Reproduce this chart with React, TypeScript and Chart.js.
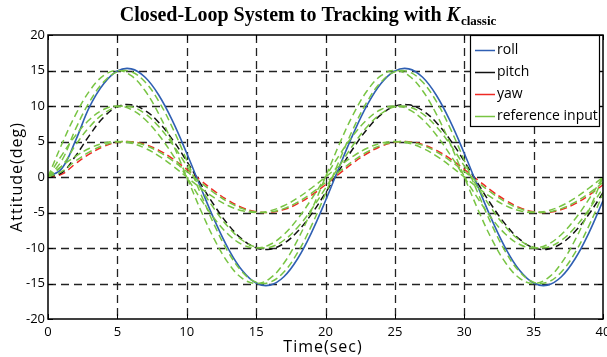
import React, { useEffect, useRef } from "react";
import { Chart, registerables } from "chart.js";

Chart.register(...registerables);

// ---- data ----
const time = [0, 1, 2, 3, 4, 5, 6, 7, 8, 9, 10, 11, 12, 13, 14, 15, 16, 17, 18, 19, 20, 21, 22, 23, 24, 25, 26, 27, 28, 29, 30, 31, 32, 33, 34, 35, 36, 37, 38, 39, 40];

const roll = [0, 1.2, 5.2, 9.9, 13.1, 14.93, 15.23, 14.05, 11.48, 7.79, 3.34, -1.44, -6.07, -10.11, -13.17, -14.93, -15.23, -14.05, -11.48, -7.79, -3.34, 1.44, 6.07, 10.11, 13.17, 14.93, 15.23, 14.05, 11.48, 7.79, 3.34, -1.44, -6.07, -10.11, -13.17, -14.93, -15.23, -14.05, -11.48, -7.79, -3.34];

const pitch = [0, 0.6, 3.0, 5.9, 8.4, 9.9, 10.16, 9.36, 7.65, 5.19, 2.22, -0.96, -4.05, -6.74, -8.78, -9.96, -10.16, -9.36, -7.65, -5.19, -2.22, 0.96, 4.05, 6.74, 8.78, 9.96, 10.16, 9.36, 7.65, 5.19, 2.22, -0.96, -4.05, -6.74, -8.78, -9.96, -10.16, -9.36, -7.65, -5.19, -2.22];

const yaw = [0, 0.4, 1.9, 3.25, 4.3, 4.88, 4.98, 4.59, 3.75, 2.55, 1.09, -0.47, -1.99, -3.31, -4.31, -4.88, -4.98, -4.59, -3.75, -2.55, -1.09, 0.47, 1.99, 3.31, 4.31, 4.88, 4.98, 4.59, 3.75, 2.55, 1.09, -0.47, -1.99, -3.31, -4.31, -4.88, -4.98, -4.59, -3.75, -2.55, -1.09];

const refRoll = [0, 4.64, 8.82, 12.14, 14.27, 15, 14.27, 12.14, 8.82, 4.64, 0, -4.64, -8.82, -12.14, -14.27, -15, -14.27, -12.14, -8.82, -4.64, 0, 4.64, 8.82, 12.14, 14.27, 15, 14.27, 12.14, 8.82, 4.64, 0, -4.64, -8.82, -12.14, -14.27, -15, -14.27, -12.14, -8.82, -4.64, 0];
const refRollLag = [0, 2.34, 6.81, 10.61, 13.37, 14.82, 14.82, 13.37, 10.61, 6.81, 2.34, -2.34, -6.81, -10.61, -13.37, -14.82, -14.82, -13.37, -10.61, -6.81, -2.34, 2.34, 6.81, 10.61, 13.37, 14.82, 14.82, 13.37, 10.61, 6.81, 2.34, -2.34, -6.81, -10.61, -13.37, -14.82, -14.82, -13.37, -10.61, -6.81, -2.34];

const refPitch = [0, 3.09, 5.88, 8.09, 9.51, 10, 9.51, 8.09, 5.88, 3.09, 0, -3.09, -5.88, -8.09, -9.51, -10, -9.51, -8.09, -5.88, -3.09, 0, 3.09, 5.88, 8.09, 9.51, 10, 9.51, 8.09, 5.88, 3.09, 0, -3.09, -5.88, -8.09, -9.51, -10, -9.51, -8.09, -5.88, -3.09, 0];
const refPitchLag = [0, 1.56, 4.54, 7.07, 8.91, 9.88, 9.88, 8.91, 7.07, 4.54, 1.56, -1.56, -4.54, -7.07, -8.91, -9.88, -9.88, -8.91, -7.07, -4.54, -1.56, 1.56, 4.54, 7.07, 8.91, 9.88, 9.88, 8.91, 7.07, 4.54, 1.56, -1.56, -4.54, -7.07, -8.91, -9.88, -9.88, -8.91, -7.07, -4.54, -1.56];

const refYaw = [0, 1.55, 2.94, 4.05, 4.76, 5, 4.76, 4.05, 2.94, 1.55, 0, -1.55, -2.94, -4.05, -4.76, -5, -4.76, -4.05, -2.94, -1.55, 0, 1.55, 2.94, 4.05, 4.76, 5, 4.76, 4.05, 2.94, 1.55, 0, -1.55, -2.94, -4.05, -4.76, -5, -4.76, -4.05, -2.94, -1.55, 0];
const refYawLag = [0, 0.78, 2.27, 3.54, 4.46, 4.94, 4.94, 4.46, 3.54, 2.27, 0.78, -0.78, -2.27, -3.54, -4.46, -4.94, -4.94, -4.46, -3.54, -2.27, -0.78, 0.78, 2.27, 3.54, 4.46, 4.94, 4.94, 4.46, 3.54, 2.27, 0.78, -0.78, -2.27, -3.54, -4.46, -4.94, -4.94, -4.46, -3.54, -2.27, -0.78];

const xTickValues = [0, 5, 10, 15, 20, 25, 30, 35, 40];
const yTickValues = [-20, -15, -10, -5, 0, 5, 10, 15, 20];

const legendLabels = ["roll", "pitch", "yaw", "reference input"];

const titleMain = "Closed-Loop System to Tracking with ";
const titleK = "K";
const titleSub = "classic";
const xTitle = "Time(sec)";
const yTitle = "Attitude(deg)";

// ---- styles ----
const W = 607;
const H = 357;
const BLUE = "#2f5fb3";
const BLACK = "#111111";
const RED = "#ee2a24";
const GREEN = "#78c443";
const legendColors = [BLUE, BLACK, RED, GREEN];
const SANS = '"Open Sans", "DejaVu Sans", sans-serif';

export default function App() {
  const ref = useRef<HTMLCanvasElement>(null);

  useEffect(() => {
    const canvas = ref.current;
    if (!canvas) return;
    const pts = (arr: number[]) => arr.map((y, i) => ({ x: time[i], y }));
    const dashed = (label: string, data: number[], color: string) => ({
      label,
      data: pts(data),
      borderColor: color,
      backgroundColor: color,
      borderWidth: 1.5,
      borderDash: [7, 4],
      pointRadius: 0,
      tension: 0.4,
      fill: false,
    });

    const deco = {
      id: "deco",
      beforeDatasetsDraw(chart: any) {
        const { ctx, chartArea: a, scales } = chart;
        const x = scales.x;
        const y = scales.y;
        ctx.save();
        ctx.strokeStyle = "#222";
        ctx.lineWidth = 1.3;
        ctx.setLineDash([8, 5]);
        for (const v of xTickValues) {
          if (v <= 0 || v >= 40) continue;
          const px = Math.round(x.getPixelForValue(v)) + 0.5;
          ctx.beginPath();
          ctx.moveTo(px, a.top);
          ctx.lineTo(px, a.bottom);
          ctx.stroke();
        }
        for (const v of yTickValues) {
          if (v <= -20 || v >= 20) continue;
          const py = Math.round(y.getPixelForValue(v)) + 0.5;
          ctx.beginPath();
          ctx.moveTo(a.left, py);
          ctx.lineTo(a.right, py);
          ctx.stroke();
        }
        ctx.restore();
      },
      afterDatasetsDraw(chart: any) {
        const { ctx, chartArea: a, scales } = chart;
        const x = scales.x;
        const y = scales.y;
        ctx.save();
        // frame
        ctx.setLineDash([]);
        ctx.strokeStyle = "#000";
        ctx.lineWidth = 1.5;
        ctx.strokeRect(a.left, a.top, a.right - a.left, a.bottom - a.top);
        ctx.lineWidth = 1;
        for (const v of xTickValues) {
          const px = Math.round(x.getPixelForValue(v)) + 0.5;
          ctx.beginPath();
          ctx.moveTo(px, a.bottom);
          ctx.lineTo(px, a.bottom - 5);
          ctx.moveTo(px, a.top);
          ctx.lineTo(px, a.top + 5);
          ctx.stroke();
        }
        for (const v of yTickValues) {
          const py = Math.round(y.getPixelForValue(v)) + 0.5;
          ctx.beginPath();
          ctx.moveTo(a.left, py);
          ctx.lineTo(a.left + 5, py);
          ctx.moveTo(a.right, py);
          ctx.lineTo(a.right - 5, py);
          ctx.stroke();
        }
        // legend
        const bx = 470.5;
        const by = 35.5;
        const bw = 129;
        const bh = 91;
        ctx.fillStyle = "#fff";
        ctx.fillRect(bx, by, bw, bh);
        ctx.strokeStyle = "#000";
        ctx.lineWidth = 1.2;
        ctx.strokeRect(bx, by, bw, bh);
        ctx.font = `14px ${SANS}`;
        ctx.textBaseline = "middle";
        ctx.textAlign = "left";
        legendLabels.forEach((lab, i) => {
          const ry = 50 + i * 22;
          ctx.strokeStyle = legendColors[i];
          ctx.lineWidth = 1.5;
          ctx.beginPath();
          ctx.moveTo(475, ry + 0.5);
          ctx.lineTo(495, ry + 0.5);
          ctx.stroke();
          ctx.fillStyle = "#000";
          ctx.fillText(lab, 497, ry);
        });
        ctx.restore();
      },
      afterDraw(chart: any) {
        const { ctx } = chart;
        ctx.save();
        // title
        const fMain = 'bold 20px "Liberation Serif", "Times New Roman", serif';
        const fK = 'italic bold 20px "Liberation Serif", "Times New Roman", serif';
        const fSub = 'bold 13px "Liberation Serif", "Times New Roman", serif';
        ctx.fillStyle = "#000";
        ctx.textBaseline = "alphabetic";
        ctx.textAlign = "left";
        ctx.font = fMain;
        const w1 = ctx.measureText(titleMain).width;
        ctx.font = fK;
        const w2 = ctx.measureText(titleK).width;
        ctx.font = fSub;
        const w3 = ctx.measureText(titleSub).width;
        let tx = 307.5 - (w1 + w2 + w3) / 2;
        const ty = 21;
        ctx.font = fMain;
        ctx.fillText(titleMain, tx, ty);
        tx += w1;
        ctx.font = fK;
        ctx.fillText(titleK, tx, ty);
        tx += w2 + 1;
        ctx.font = fSub;
        ctx.fillText(titleSub, tx, ty + 4);
        // axis titles
        ctx.font = `16px ${SANS}`;
        (ctx as any).letterSpacing = "1px";
        ctx.textAlign = "center";
        ctx.textBaseline = "middle";
        ctx.fillText(xTitle, 323, 347);
        ctx.translate(17, 177);
        ctx.rotate(-Math.PI / 2);
        ctx.fillText(yTitle, 0, 0);
        ctx.restore();
      },
    };

    const chart = new Chart(canvas, {
      type: "line",
      data: {
        datasets: [
          dashed("reference input", refRoll, GREEN),
          dashed("reference input", refRollLag, GREEN),
          dashed("reference input", refPitch, GREEN),
          dashed("reference input", refPitchLag, GREEN),
          dashed("reference input", refYaw, GREEN),
          dashed("reference input", refYawLag, GREEN),
          {
            label: "roll",
            data: pts(roll),
            borderColor: BLUE,
            backgroundColor: BLUE,
            borderWidth: 1.6,
            pointRadius: 0,
            tension: 0.4,
            fill: false,
          },
          dashed("pitch", pitch, BLACK),
          dashed("yaw", yaw, RED),
        ],
      },
      options: {
        responsive: false,
        animation: false,
        devicePixelRatio: 1,
        layout: { padding: { top: 35, right: 4, left: 0, bottom: 0 } },
        plugins: {
          legend: { display: false },
          title: { display: false },
          tooltip: { enabled: false },
        },
        scales: {
          x: {
            type: "linear",
            min: 0,
            max: 40,
            afterBuildTicks: (s: any) => {
              s.ticks = xTickValues.map((v) => ({ value: v }));
            },
            afterFit: (s: any) => {
              s.height = 38;
              s.paddingLeft = 0;
              s.paddingRight = 0;
            },
            ticks: {
              color: "#000",
              font: { family: SANS, size: 13 },
              padding: 5,
              maxRotation: 0,
              autoSkip: false,
            },
            grid: { display: false, drawTicks: false },
            border: { display: false },
          },
          y: {
            type: "linear",
            min: -20,
            max: 20,
            afterBuildTicks: (s: any) => {
              s.ticks = yTickValues.map((v) => ({ value: v }));
            },
            afterFit: (s: any) => {
              s.width = 48;
              s.paddingTop = 0;
              s.paddingBottom = 0;
            },
            ticks: {
              color: "#000",
              font: { family: SANS, size: 13 },
              padding: 3,
              autoSkip: false,
            },
            grid: { display: false, drawTicks: false },
            border: { display: false },
          },
        },
      },
      plugins: [deco],
    } as any);

    return () => chart.destroy();
  }, []);

  return (
    <div style={{ position: "absolute", left: 0, top: 0, width: W, height: H, background: "#fff" }}>
      <canvas ref={ref} width={W} height={H} style={{ width: W, height: H, display: "block" }} />
    </div>
  );
}
